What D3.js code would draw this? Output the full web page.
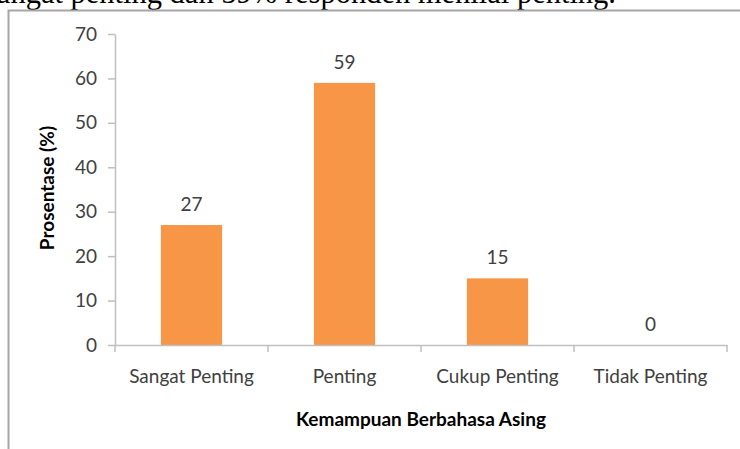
<!DOCTYPE html>
<html lang="id">
<head>
	<meta charset="UTF-8">
	<title>Kemampuan Berbahasa Asing</title>
	<style>
		body { margin: 0; background: #fff; }
		svg { display: block; }
	</style>
</head>
<body>
	<script src="https://cdn.jsdelivr.net/npm/d3@7"></script>
	<script>
		var width = 740;
		var height = 449;

		// data
		var categories = ["Sangat Penting", "Penting", "Cukup Penting", "Tidak Penting"];
		var values = [27, 59, 15, 0];
		var yTicks = [0, 10, 20, 30, 40, 50, 60, 70];
		var sentence = "sangat penting dan 59% responden menilai penting.";

		var svg = d3.select("body")
			.append("svg")
			.attr("width", width)
			.attr("height", height);

		// cut-off line of the document text above the chart
		svg.append("text")
			.attr("x", 616)
			.attr("y", 3)
			.attr("text-anchor", "end")
			.style("font-family", "'Liberation Serif', 'Times New Roman', serif")
			.style("font-size", "30.5px")
			.attr("fill", "#000")
			.text(sentence);

		// chart frame (only left and top edges are visible)
		svg.append("path")
			.attr("d", "M8.5," + (height + 2) + "V10.5H" + (width + 2))
			.attr("fill", "none")
			.attr("stroke", "#a6a6a6")
			.attr("stroke-width", 2);

		var plotLeft = 115, plotRight = 727, plotTop = 34, plotBottom = 345;

		var x = d3.scaleBand()
			.domain(categories)
			.range([plotLeft, plotRight])
			.paddingInner(0.6)
			.paddingOuter(0.3);

		var y = d3.scaleLinear()
			.domain([0, 70])
			.range([plotBottom, plotTop]);

		var font = "Lato, 'Open Sans', sans-serif";

		// y axis
		var yAxis = svg.append("g")
			.attr("transform", "translate(" + plotLeft + ",0)")
			.call(d3.axisLeft(y).tickValues(yTicks).tickSize(7).tickPadding(11).tickSizeOuter(0));
		yAxis.select(".domain").attr("stroke", "#bfbfbf").attr("stroke-width", 1.5);
		yAxis.selectAll(".tick line").attr("stroke", "#bfbfbf").attr("stroke-width", 1.5);
		yAxis.selectAll(".tick text")
			.style("font-family", font)
			.style("font-size", "19px")
			.attr("fill", "#404040");

		// bars
		svg.selectAll("rect.bar")
			.data(values)
			.enter()
			.append("rect")
			.attr("class", "bar")
			.attr("x", function(d, i) { return x(categories[i]); })
			.attr("y", function(d) { return y(d); })
			.attr("width", x.bandwidth())
			.attr("height", function(d) { return y(0) - y(d); })
			.attr("fill", "#f79646");

		// x axis
		var xAxis = svg.append("g")
			.attr("transform", "translate(0," + plotBottom + ")")
			.call(d3.axisBottom(x).tickSize(0).tickSizeOuter(0));
		xAxis.select(".domain").attr("stroke", "#bfbfbf").attr("stroke-width", 1.5);
		xAxis.selectAll(".tick text")
			.attr("y", 38)
			.attr("dy", null)
			.style("font-family", font)
			.style("font-size", "19px")
			.attr("fill", "#404040");

		// tick marks between categories
		var bounds = d3.range(categories.length + 1).map(function(i) { return plotLeft + i * x.step(); });
		xAxis.selectAll("line.sep")
			.data(bounds)
			.enter()
			.append("line")
			.attr("class", "sep")
			.attr("x1", function(d) { return d; })
			.attr("x2", function(d) { return d; })
			.attr("y1", 0)
			.attr("y2", 7)
			.attr("stroke", "#bfbfbf")
			.attr("stroke-width", 1.5);

		// value labels
		svg.selectAll("text.val")
			.data(values)
			.enter()
			.append("text")
			.attr("class", "val")
			.attr("x", function(d, i) { return x(categories[i]) + x.bandwidth() / 2; })
			.attr("y", function(d) { return y(d) - 14; })
			.attr("text-anchor", "middle")
			.style("font-family", font)
			.style("font-size", "19px")
			.attr("fill", "#404040")
			.text(function(d) { return d; });

		// axis titles
		svg.append("text")
			.attr("x", (plotLeft + plotRight) / 2)
			.attr("y", 426)
			.attr("text-anchor", "middle")
			.style("font-family", font)
			.style("font-size", "19px")
			.style("font-weight", "bold")
			.attr("fill", "#000")
			.text("Kemampuan Berbahasa Asing");

		svg.append("text")
			.attr("transform", "translate(54,188) rotate(-90)")
			.attr("text-anchor", "middle")
			.style("font-family", font)
			.style("font-size", "19px")
			.style("font-weight", "bold")
			.attr("fill", "#000")
			.text("Prosentase (%)");
	</script>
</body>
</html>
